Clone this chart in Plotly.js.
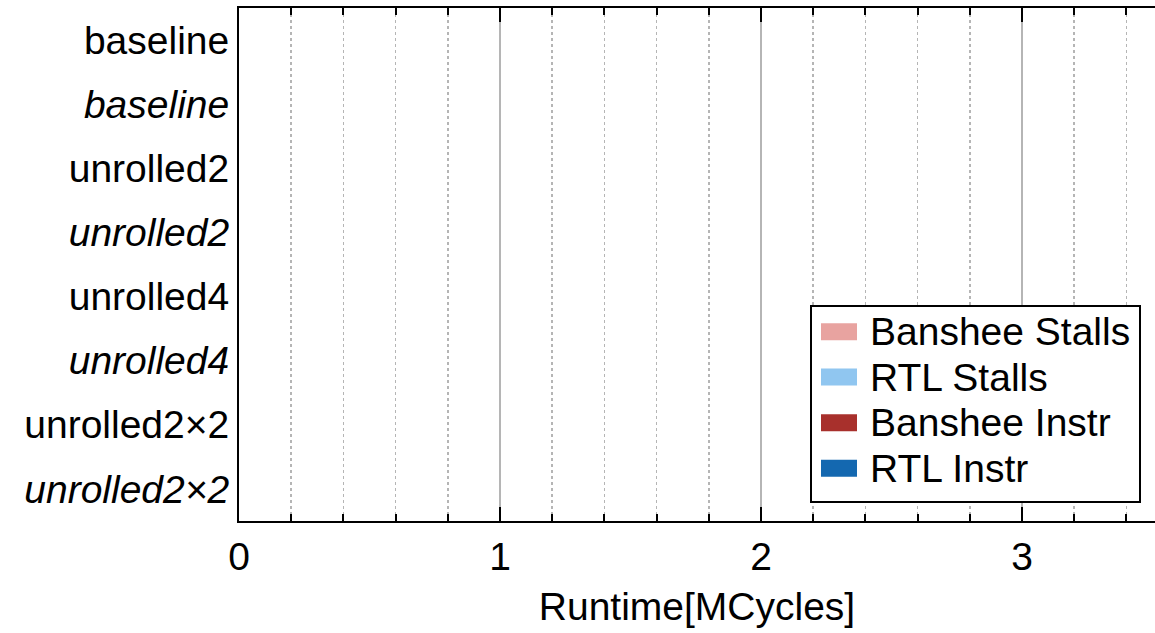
<!DOCTYPE html>
<html><head><meta charset="utf-8">
<script src="https://cdn.plot.ly/plotly-3.0.1.min.js"></script>
<style>html,body{margin:0;padding:0;background:#fff}#chart{width:1155px;height:633px}</style>
</head><body><div id="chart"></div>
<script>
// ---- data (no bars are visible in the reference: all runtimes read as 0) ----
const categories = ['baseline', '<i>baseline</i>', 'unrolled2', '<i>unrolled2</i>',
                    'unrolled4', '<i>unrolled4</i>', 'unrolled2×2', '<i>unrolled2×2</i>'];
const seriesNames = ['Banshee Stalls', 'RTL Stalls', 'Banshee Instr', 'RTL Instr'];
const bansheeStalls = [0, 0, 0, 0, 0, 0, 0, 0];
const rtlStalls     = [0, 0, 0, 0, 0, 0, 0, 0];
const bansheeInstr  = [0, 0, 0, 0, 0, 0, 0, 0];
const rtlInstr      = [0, 0, 0, 0, 0, 0, 0, 0];
const xTickVals = [0, 1, 2, 3];
const xTickText = ['0', '1', '2', '3'];

// ---- styles ----
const seriesColors = ['#E8A3A0', '#90C6F0', '#A8302C', '#1468B0'];
const FONT = '"Liberation Sans", Arial, Helvetica, sans-serif';
const FS = 39;
const W = 1155, H = 633, ML = 239, MR = 0, MT = 8, MB = 112;
const PW = W - ML - MR, PH = H - MT - MB;
const px2x = p => (p - ML) / PW;
const px2y = p => (H - MB - p) / PH;

const values = [bansheeStalls, rtlStalls, bansheeInstr, rtlInstr];
const traces = values.map((v, i) => ({
  type: 'bar', orientation: 'h', name: seriesNames[i],
  x: v, y: categories,
  marker: {color: seriesColors[i], line: {width: 0}},
  showlegend: false, hoverinfo: 'x+y+name'
}));

// custom legend drawn to match reference swatch sizes
const shapes = [{
  type: 'rect', xref: 'paper', yref: 'paper',
  x0: px2x(811), x1: px2x(1140), y0: px2y(502), y1: px2y(306),
  line: {color: '#000', width: 2}, fillcolor: '#fff', layer: 'above'
}];
const annotations = [];
const rowC = [331.7, 377, 422.7, 468.3];
seriesNames.forEach((n, i) => {
  shapes.push({
    type: 'rect', xref: 'paper', yref: 'paper',
    x0: px2x(821), x1: px2x(857), y0: px2y(rowC[i] + 8.5), y1: px2y(rowC[i] - 8.5),
    line: {width: 0}, fillcolor: seriesColors[i], layer: 'above'
  });
  annotations.push({
    xref: 'paper', yref: 'paper', x: px2x(868), y: px2y(rowC[i]),
    xanchor: 'left', yanchor: 'middle', showarrow: false, text: n,
    font: {family: FONT, size: FS, color: '#000'}
  });
});

const layout = {
  width: W, height: H,
  margin: {l: ML, r: MR, t: MT, b: MB, pad: 0},
  paper_bgcolor: '#fff', plot_bgcolor: '#fff',
  font: {family: FONT, size: FS, color: '#000'},
  barmode: 'overlay', showlegend: false,
  xaxis: {
    range: [0, PW / 261], tickvals: xTickVals, ticktext: xTickText,
    showline: true, linecolor: '#000', linewidth: 2, mirror: 'ticks',
    ticks: 'inside', ticklen: 14, tickwidth: 2, tickcolor: '#000',
    showgrid: true, gridcolor: '#b5b5b5', gridwidth: 1.5, zeroline: false,
    tickfont: {family: FONT, size: FS, color: '#000'},
    title: {text: 'Runtime[MCycles]', font: {family: FONT, size: FS, color: '#000'}, standoff: 16},
    minor: {dtick: 0.2, tick0: 0, ticks: 'inside', ticklen: 7, tickwidth: 2, tickcolor: '#000',
            showgrid: true, gridcolor: '#b5b5b5', griddash: 'dot', gridwidth: 1.5}
  },
  yaxis: {
    type: 'category', categoryorder: 'array', categoryarray: categories,
    range: [categories.length - 0.5, -0.5],
    showline: true, linecolor: '#000', linewidth: 2, mirror: false,
    ticks: '', showgrid: false, zeroline: false,
    tickfont: {family: FONT, size: FS, color: '#000'}
  },
  shapes: shapes, annotations: annotations
};
Plotly.newPlot('chart', traces, layout, {displayModeBar: false, staticPlot: true});
</script>
</body></html>
